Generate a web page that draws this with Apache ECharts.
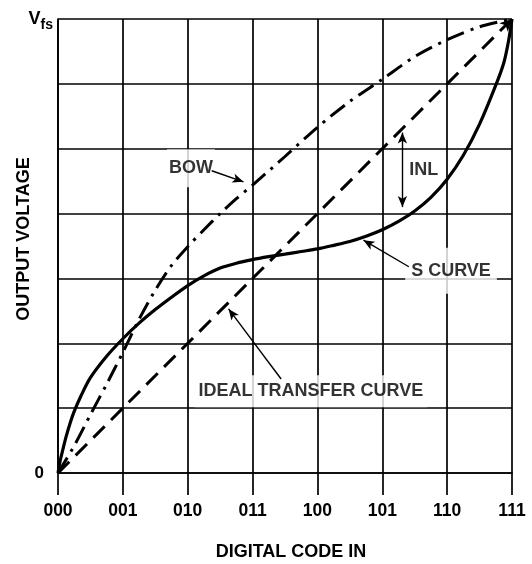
<!DOCTYPE html>
<html>
<head>
<meta charset="utf-8">
<style>
html,body{margin:0;padding:0;background:#fff;}
#chart{width:532px;height:564px;}
</style>
<script src="https://cdn.jsdelivr.net/npm/echarts@6/dist/echarts.min.js"></script>
</head>
<body>
<div id="chart"></div>
<script>
// ---- data ----
const codeLabels = ['000','001','010','011','100','101','110','111'];
const idealX = [0, 7];
const idealY = [0, 7];
const bowX = [0, 0.25, 0.5, 0.75, 1, 1.25, 1.5, 1.75, 2, 2.25, 2.5, 2.75, 3, 3.5, 4, 4.5, 5, 5.5, 6, 6.5, 7];
const bowY = [0, 0.42, 0.9, 1.37, 1.86, 2.37, 2.82, 3.2, 3.49, 3.75, 4.0, 4.23, 4.44, 4.88, 5.33, 5.73, 6.07, 6.42, 6.68, 6.88, 7];
const sX = [0, 0.03, 0.07, 0.125, 0.19, 0.25, 0.35, 0.5, 0.75, 1, 1.25, 1.5, 1.75, 2, 2.25, 2.5, 2.75, 3, 3.25, 3.5, 3.75, 4, 4.25, 4.5, 4.75, 5, 5.25, 5.5, 5.75, 6, 6.25, 6.5, 6.75, 6.875, 6.95, 7];
const sY = [0, 0.17, 0.34, 0.56, 0.78, 0.95, 1.18, 1.47, 1.8, 2.07, 2.31, 2.52, 2.71, 2.89, 3.04, 3.16, 3.235, 3.29, 3.335, 3.375, 3.415, 3.455, 3.51, 3.57, 3.65, 3.75, 3.88, 4.04, 4.25, 4.53, 4.9, 5.38, 5.98, 6.33, 6.68, 7];
const yLabelZero = '0';
const yLabelTop = 'fs';
const xName = 'DIGITAL CODE IN';
const yName = 'OUTPUT VOLTAGE';

// annotation texts and arrows (data coordinates)
const noteNames = ['BOW', 'INL', 'S CURVE', 'IDEAL TRANSFER CURVE'];
const notePos = [[2.05, 4.70], [5.64, 4.67], [6.06, 3.12], [3.90, 1.26]];
const arrowFrom = [[2.37, 4.66], [5.41, 3.18], [3.44, 1.45]];
const arrowTo = [[2.86, 4.49], [4.71, 3.59], [2.63, 2.53]];
const inlFrom = [5.31, 5.25];
const inlTo = [5.31, 4.10];

const zip = (xs, ys) => xs.map((x, i) => [x, ys[i]]);
const FONT = '"Liberation Sans", Arial, Helvetica, sans-serif';
const BLACK = '#000';

const notePadding = [[10, 2], [0, 0], [14, 6], [7, 4]];
const noteBg = ['#fff', 'transparent', '#fff', '#fff'];

const chart = echarts.init(document.getElementById('chart'), null, {renderer: 'canvas'});

const arrowLines = arrowFrom.map((f, i) => [
  {coord: f, symbol: 'none'},
  {coord: arrowTo[i], symbol: 'arrow'}
]);
arrowLines.push([
  {coord: inlFrom, symbol: 'arrow'},
  {coord: inlTo, symbol: 'arrow'}
]);

const option = {
  animation: false,
  backgroundColor: '#fff',
  grid: {left: 58, right: 20, top: 19, bottom: 91, containLabel: false, outerBoundsMode: 'none'},
  xAxis: {
    type: 'value', min: 0, max: 7, interval: 1,
    name: xName, nameLocation: 'middle', nameGap: 70, nameMoveOverlap: false,
    nameTextStyle: {fontFamily: FONT, fontWeight: 'bold', fontSize: 18, color: BLACK, padding: [0, 0, 0, 12]},
    axisLine: {show: true, onZero: false, lineStyle: {color: BLACK, width: 1.7}},
    axisTick: {show: true, length: 22, inside: false, lineStyle: {color: BLACK, width: 1.7}},
    axisLabel: {
      margin: 29, fontFamily: FONT, fontWeight: 'bold', fontSize: 17.5, color: BLACK,
      formatter: v => codeLabels[Math.round(v)] || ''
    },
    splitLine: {show: true, lineStyle: {color: BLACK, width: 1.7}}
  },
  yAxis: {
    type: 'value', min: 0, max: 7, interval: 1,
    name: yName, nameLocation: 'middle', nameRotate: 90, nameGap: 25, nameMoveOverlap: false,
    nameTextStyle: {fontFamily: FONT, fontWeight: 'bold', fontSize: 18, color: BLACK, padding: [0, 0, 0, 14]},
    axisLine: {show: true, onZero: false, lineStyle: {color: BLACK, width: 1.7}},
    axisTick: {show: false},
    axisLabel: {
      margin: 5, color: BLACK, fontFamily: FONT, fontWeight: 'bold',
      formatter: v => v === 0 ? '{z|' + yLabelZero + '}' : (v === 7 ? '{v|V}{s|' + yLabelTop + '}' : ''),
      rich: {
        z: {fontFamily: FONT, fontWeight: 'bold', fontSize: 17, color: BLACK, padding: [0, 9, 0, 0]},
        v: {fontFamily: FONT, fontWeight: 'bold', fontSize: 18, color: BLACK},
        s: {fontFamily: FONT, fontWeight: 'bold', fontSize: 14, color: BLACK, padding: [12, 0, 0, 0]}
      }
    },
    splitLine: {show: true, lineStyle: {color: BLACK, width: 1.7}}
  },
  series: [
    {
      name: 'ideal', type: 'line', z: 4,
      data: [
        {value: [idealX[0], idealY[0]], symbol: 'none'},
        {value: [idealX[1], idealY[1]], symbol: 'arrow', symbolSize: [9, 12], symbolRotate: -45}
      ],
      showSymbol: true, showAllSymbol: true,
      itemStyle: {color: BLACK},
      lineStyle: {color: BLACK, width: 3, type: [16, 9]}
    },
    {
      name: 'bow', type: 'line', z: 4, symbol: 'none', smooth: 0.3,
      data: zip(bowX, bowY),
      lineStyle: {color: BLACK, width: 3, type: [18, 7, 3, 7]}
    },
    {
      name: 's', type: 'line', z: 4, symbol: 'none', smooth: 0.3,
      data: zip(sX, sY),
      lineStyle: {color: BLACK, width: 3.2}
    },
    {
      name: 'notes', type: 'scatter', z: 3, symbolSize: 1,
      itemStyle: {color: 'rgba(0,0,0,0)'},
      data: noteNames.map((n, i) => ({
        name: n, value: notePos[i],
        label: {
          show: true, position: 'inside', formatter: '{b}',
          fontFamily: FONT, fontWeight: 'bold', fontSize: 18, color: BLACK,
          backgroundColor: noteBg[i], padding: notePadding[i]
        }
      })),
      markLine: {
        silent: true, animation: false, z: 6,
        symbolSize: [7, 11],
        label: {show: false},
        lineStyle: {color: BLACK, width: 1.4, type: 'solid'},
        data: arrowLines
      }
    }
  ]
};
chart.setOption(option);
</script>
</body>
</html>
